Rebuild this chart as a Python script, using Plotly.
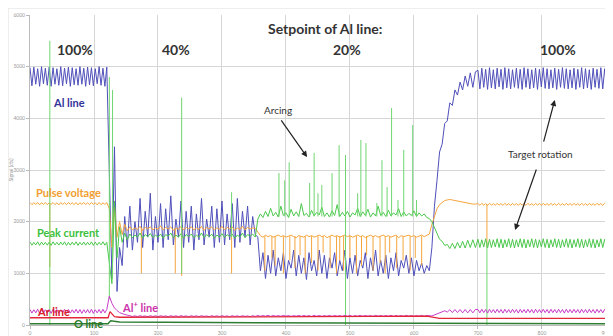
import numpy as np
import plotly.graph_objects as go

# ---------------- data ----------------
seg_starts = [0, 124, 156, 356, 628, 700]   # time positions of the segments
seg_steps = [3, 4, 4, 4, 4, 3]              # sampling step of each segment

al_100a = [4980, 4630, 4990, 4660, 4960, 4620, 5000, 4670, 4970, 4640,
           4990, 4620, 4980, 4660, 4960, 4640, 5000, 4630, 4970, 4670,
           4990, 4620, 4980, 4650, 4960, 4640, 5000, 4660, 4970, 4620,
           4990, 4650, 4980, 4630, 4960, 4670, 5000, 4640, 4970, 4620,
           4990]
al_trans = [3200, 900, 3450, 650, 1500, 1150, 2100, 1500]
al_40 = [2300, 1450, 2000, 1600, 2450, 1500, 2200, 1700, 2550, 1450,
         2100, 1600, 2350, 1500, 2250, 1650, 2500, 1550, 2050, 1700,
         2400, 1500, 2200, 1600, 2300, 1450, 2150, 1650, 2450, 1550,
         2050, 1700, 2300, 1500, 2250, 1600, 2400, 1550, 2150, 1650,
         2350, 1500, 2450, 1600, 2200, 1700, 2300, 1550, 2100, 1750]
al_20 = [1700, 1050, 1400, 900, 1350, 1000, 1450, 950, 1300, 1050,
         1400, 900, 1250, 1100, 1450, 950, 1350, 1000, 1300, 880,
         1400, 1050, 1250, 950, 1450, 1000, 1350, 900, 1300, 1100,
         1400, 950, 1250, 1050, 1450, 900, 1300, 1000, 1350, 950,
         1250, 1100, 1400, 900, 1300, 1050, 1450, 950, 1250, 1000,
         1350, 900, 1300, 1050, 1400, 950, 1250, 1100, 1350, 1000,
         1300, 950, 1250, 1050, 1200, 1000, 1150, 1050]
al_rise = [1500, 2300, 2800, 3350, 3500, 3900, 3950, 4300, 4250, 4550,
           4450, 4700, 4550, 4820, 4620, 4880, 4600, 4900]
al_100b = [4930, 4570, 4970, 4600, 4950, 4560, 4980, 4590, 4940, 4570,
           4970, 4610, 4950, 4560, 4980, 4590, 4960, 4570, 4940, 4600,
           4970, 4580, 4950, 4560, 4980, 4600, 4960, 4570, 4940, 4590,
           4970, 4560, 4950, 4610, 4980, 4580, 4960, 4570, 4940, 4590,
           4970, 4560, 4950, 4600, 4980, 4580, 4960, 4570, 4940, 4590,
           4970, 4560, 4950, 4600, 4980, 4570, 4960, 4590, 4940, 4560,
           4970, 4600, 4950, 4580, 4980, 4570, 4960, 4590, 4940, 4570]

pv_100a = [2370, 2330, 2365, 2335, 2370, 2325, 2365, 2335, 2370, 2330,
           2365, 2335, 2370, 2330, 2365, 2325, 2370, 2335, 2365, 2330,
           2370, 2335, 2365, 2330, 2370, 2325, 2365, 2335, 2370, 2330,
           2365, 2330, 2370, 2335, 2365, 2325, 2370, 2330, 2365, 2335,
           2370]
pv_trans = [2250, 1500, 2300, 1700, 2000, 1750, 1950, 1820]
pv_40 = [1900, 1840, 1880, 1850, 1910, 1830, 1890, 1860, 1900, 1840,
         1880, 1850, 1920, 1840, 1890, 1860, 1900, 1830, 1880, 1850,
         1910, 1840, 1890, 1860, 1900, 1840, 1880, 1850, 1910, 1830,
         1890, 1860, 1900, 1840, 1880, 1850, 1910, 1840, 1890, 1860,
         1900, 1830, 1880, 1850, 1910, 1840, 1890, 1860, 1880, 1870]
pv_20 = [1800, 1730, 1700, 1740, 1710, 1730, 1700, 1720, 1740, 1710,
         1730, 1700, 1720, 1740, 1710, 1690, 1730, 1720, 1700, 1740,
         1710, 1730, 1700, 1720, 1740, 1710, 1730, 1690, 1720, 1740,
         1710, 1730, 1700, 1720, 1740, 1710, 1730, 1700, 1720, 1740,
         1710, 1730, 1690, 1720, 1740, 1710, 1730, 1700, 1720, 1740,
         1710, 1730, 1700, 1720, 1740, 1690, 1730, 1710, 1720, 1740,
         1710, 1730, 1700, 1720, 1740, 1710, 1730, 1760]
pv_rise = [1950, 2100, 2250, 2330, 2380, 2410, 2420, 2430, 2420, 2410,
           2400, 2390, 2370, 2360, 2350, 2350, 2340, 2340]
pv_100b = [2350, 2315, 2355, 2320, 2350, 2315, 2355, 2320, 2350, 2315,
           2355, 2320, 2350, 2315, 2355, 2320, 2350, 2315, 2355, 2320,
           2350, 2315, 2355, 2320, 2350, 2315, 2355, 2320, 2350, 2315,
           2355, 2320, 2350, 2315, 2355, 2320, 2350, 2315, 2355, 2320,
           2350, 2315, 2355, 2320, 2350, 2315, 2355, 2320, 2350, 2315,
           2355, 2320, 2350, 2315, 2355, 2320, 2350, 2315, 2355, 2320,
           2350, 2315, 2355, 2320, 2350, 2315, 2355, 2320, 2350, 2315]

pc_100a = [1605, 1545, 1600, 1550, 1610, 1540, 1605, 1550, 1600, 1545,
           1605, 1540, 1610, 1550, 1600, 1545, 1605, 1550, 1610, 1540,
           1600, 1545, 1605, 1550, 1610, 1540, 1600, 1550, 1605, 1545,
           1600, 1550, 1610, 1540, 1605, 1545, 1600, 1550, 1610, 1545,
           1600]
pc_trans = [1200, 800, 2400, 1300, 1900, 1600, 1780, 1650]
pc_40 = [1760, 1690, 1740, 1700, 1780, 1680, 1750, 1710, 1770, 1690,
         1740, 1700, 1760, 1680, 1750, 1720, 1780, 1690, 1740, 1700,
         1770, 1680, 1750, 1710, 1760, 1690, 1740, 1700, 1780, 1690,
         1750, 1710, 1760, 1680, 1740, 1700, 1770, 1690, 1750, 1710,
         1760, 1680, 1740, 1700, 1780, 1690, 1750, 1720, 1760, 1700]
pc_20 = [2050, 2150, 2080, 2200, 2100, 2260, 2110, 2180, 2090, 2300,
         2120, 2170, 2080, 2240, 2110, 2190, 2100, 2350, 2120, 2160,
         2090, 2220, 2110, 2180, 2130, 2280, 2100, 2170, 2090, 2210,
         2120, 2330, 2100, 2180, 2110, 2200, 2090, 2170, 2130, 2260,
         2100, 2190, 2120, 2240, 2090, 2170, 2110, 2300, 2120, 2180,
         2100, 2220, 2110, 2170, 2130, 2250, 2100, 2190, 2110, 2160,
         2120, 2210, 2100, 2170, 2110, 2150, 2080, 2060]
pc_rise = [2000, 1880, 1760, 1660, 1620, 1540, 1560, 1480, 1580, 1480,
           1600, 1490, 1620, 1490, 1640, 1500, 1650, 1500]
pc_100b = [1660, 1500, 1650, 1510, 1670, 1490, 1660, 1500, 1650, 1510,
           1670, 1500, 1660, 1490, 1650, 1510, 1670, 1500, 1660, 1490,
           1650, 1510, 1670, 1500, 1660, 1490, 1650, 1510, 1670, 1500,
           1660, 1490, 1650, 1510, 1670, 1500, 1660, 1490, 1650, 1510,
           1670, 1500, 1660, 1490, 1650, 1510, 1670, 1500, 1660, 1490,
           1650, 1510, 1670, 1500, 1660, 1490, 1650, 1510, 1670, 1500,
           1660, 1490, 1650, 1510, 1670, 1500, 1660, 1490, 1650, 1510]

alp_100a = [300, 230, 295, 235, 305, 225, 300, 235, 295, 230,
            300, 225, 305, 235, 300, 230, 295, 235, 305, 225,
            300, 230, 295, 235, 305, 230, 300, 225, 295, 235,
            300, 230, 305, 225, 295, 235, 300, 230, 305, 235,
            300]
alp_trans = [560, 420, 330, 280, 240, 220, 200, 190]
alp_40 = [180, 165, 178, 162, 180, 166, 176, 160, 180, 165,
          178, 162, 180, 166, 176, 160, 180, 165, 178, 162,
          180, 166, 176, 160, 180, 165, 178, 162, 180, 166,
          176, 160, 180, 165, 178, 162, 180, 166, 176, 160,
          180, 165, 178, 162, 180, 166, 176, 160, 180, 165]
alp_20 = [185, 168, 182, 170, 186, 166, 184, 170, 182, 168,
          186, 170, 184, 166, 182, 170, 186, 168, 184, 170,
          182, 166, 186, 170, 184, 168, 182, 170, 186, 166,
          184, 170, 182, 168, 186, 170, 184, 166, 182, 170,
          186, 168, 184, 170, 182, 166, 186, 170, 184, 168,
          182, 170, 186, 166, 184, 170, 182, 168, 186, 170,
          184, 166, 182, 170, 186, 168, 184, 172]
alp_rise = [175, 195, 215, 235, 255, 275, 250, 295, 240, 300,
            240, 300, 235, 300, 235, 300, 235, 300]
alp_100b = [300, 235, 305, 240, 300, 230, 305, 240, 300, 235,
            305, 240, 300, 230, 305, 240, 300, 235, 305, 240,
            300, 230, 305, 240, 300, 235, 305, 240, 300, 230,
            305, 240, 300, 235, 305, 240, 300, 230, 305, 240,
            300, 235, 305, 240, 300, 230, 305, 240, 300, 235,
            305, 240, 300, 230, 305, 240, 300, 235, 305, 240,
            300, 230, 305, 240, 300, 235, 305, 240, 300, 230]

ar_time = [0, 122, 125, 132, 140, 356, 620, 640, 911]
ar_line = [140, 140, 260, 160, 150, 165, 170, 130, 130]
o_time = [0, 122, 126, 140, 356, 628, 911]
o_line = [25, 25, 80, 60, 45, 30, 25]

# arcing events (peak current spikes)
arc_time = [31, 124, 129, 237, 315, 389, 398, 405, 437, 444, 450, 456, 472, 483,
            493, 512, 517, 525, 542, 550, 558, 565, 575, 584, 598, 604, 714]
arc_top = [5500, 4800, 4550, 4400, 2570, 2940, 2800, 3150, 2750, 3330, 2550, 2710,
           2940, 3480, 3290, 2550, 3580, 3520, 2360, 3190, 2670, 4200, 2420, 3390,
           3870, 2420, 1600]
arc_bottom = [0, 500, 900, 1000, 1700, 2100, 2100, 2100, 2100, 2100, 2100, 2100,
              2100, 2100, 0, 2100, 2100, 2100, 2100, 2100, 2100, 2100, 2100, 2100,
              2100, 2100, 0]
# pulse voltage drop-outs
drop_time = [31, 174, 227, 237, 315,
             367, 378, 383, 396, 406, 414, 422, 430, 440, 450, 458, 469, 479, 484,
             490, 500, 510, 518, 526, 536, 547, 555, 562, 573, 583, 594, 602, 612,
             714]
drop_top = [2350, 1870, 1870, 1870, 1870,
            1720, 1720, 1720, 1720, 1720, 1720, 1720, 1720, 1720, 1720, 1720, 1720,
            1720, 1720, 1720, 1720, 1720, 1720, 1720, 1720, 1720, 1720, 1720, 1720,
            1720, 1720, 1720, 1720,
            2340]
drop_bottom = [1120, 1000, 1000, 950, 1000,
               1050, 1300, 1150, 1000, 1250, 1100, 1350, 1000, 1200, 1050, 1400, 1100,
               1000, 1250, 1050, 1300, 1000, 1150, 1350, 1050, 1200, 1000, 1400, 1100,
               1250, 1050, 1300, 1150,
               1500]

x_ticks = list(range(0, 1000, 100))
y_ticks = list(range(0, 7000, 1000))


def build(segs):
    xs, ys = [], []
    for start, step, vals in zip(seg_starts, seg_steps, segs):
        xs.extend((start + step * np.arange(len(vals))).tolist())
        ys.extend(vals)
    return xs, ys


def vsegs(xv, lo, hi):
    xs, ys = [], []
    for a, b, c in zip(xv, lo, hi):
        xs += [a, a, None]
        ys += [b, c, None]
    return xs, ys


BLUE = "#3d3db4"
ORANGE = "#f5a53c"
GREEN = "#4cc84c"
RED = "#e3263a"
MAGENTA = "#c83cc8"
DKGREEN = "#2e7d32"

fig = go.Figure()

x, y = build([al_100a, al_trans, al_40, al_20, al_rise, al_100b])
fig.add_trace(go.Scatter(x=x, y=y, mode="lines", line=dict(color=BLUE, width=1), opacity=0.9))
x, y = build([pv_100a, pv_trans, pv_40, pv_20, pv_rise, pv_100b])
fig.add_trace(go.Scatter(x=x, y=y, mode="lines", line=dict(color=ORANGE, width=1)))
x, y = vsegs(drop_time, drop_bottom, drop_top)
fig.add_trace(go.Scatter(x=x, y=y, mode="lines", line=dict(color=ORANGE, width=1)))
x, y = build([pc_100a, pc_trans, pc_40, pc_20, pc_rise, pc_100b])
fig.add_trace(go.Scatter(x=x, y=y, mode="lines", line=dict(color=GREEN, width=1)))
x, y = vsegs(arc_time, arc_bottom, arc_top)
fig.add_trace(go.Scatter(x=x, y=y, mode="lines", line=dict(color="#6fd66f", width=1)))
x, y = build([alp_100a, alp_trans, alp_40, alp_20, alp_rise, alp_100b])
fig.add_trace(go.Scatter(x=x, y=y, mode="lines", line=dict(color=MAGENTA, width=1)))
fig.add_trace(go.Scatter(x=ar_time, y=ar_line, mode="lines", line=dict(color=RED, width=1.3)))
fig.add_trace(go.Scatter(x=o_time, y=o_line, mode="lines", line=dict(color=DKGREEN, width=1.5)))

FONT = "Lato"
ann = []


def txt(x, y, s, color, size, bold=True):
    ann.append(dict(x=x, y=y, xref="x", yref="y", text=("<b>%s</b>" % s) if bold else s,
                    showarrow=False, font=dict(family=FONT, size=size, color=color)))


txt(461, 5730, "Setpoint of Al line:", "#333333", 14)
txt(70, 5340, "100%", "#333333", 14)
txt(228, 5340, "40%", "#333333", 14)
txt(495, 5340, "20%", "#333333", 14)
txt(825, 5340, "100%", "#333333", 14)
txt(61, 4300, "Al line", "#33339a", 11)
txt(60, 2555, "Pulse voltage", "#f0a030", 11)
txt(60, 1800, "Peak current", "#3cbf3c", 11)
txt(36, 270, "Ar line", "#d8202a", 11)
txt(172, 350, "Al<sup>+</sup> line", "#cc33aa", 11)
txt(91, 20, "O line", "#2a7a2a", 11)
txt(387, 4160, "Arcing", "#333333", 10, bold=False)
txt(798, 3310, "Target rotation", "#333333", 10, bold=False)


def arrow(hx, hy, tx, ty):
    ann.append(dict(x=hx, y=hy, ax=tx, ay=ty, xref="x", yref="y", axref="x", ayref="y",
                    text="", showarrow=True, arrowhead=2, arrowsize=1, arrowwidth=1.2,
                    arrowcolor="#222222", font=dict(size=10)))


arrow(433, 3250, 391, 3990)
arrow(820, 4355, 802, 3520)
arrow(758, 1840, 792, 3040)

# the page body has an 8px margin, so the figure starts at (8, 8)
fig.update_layout(
    width=605, height=328,
    margin=dict(l=22, r=0, t=7, b=11),
    paper_bgcolor="white", plot_bgcolor="white",
    showlegend=False,
    font=dict(family=FONT),
    annotations=ann,
    shapes=[
        dict(type="line", xref="paper", yref="paper", x0=-0.0377, x1=1.05, y0=1.0226, y1=1.0226,
             line=dict(color="#dddddd", width=1)),
        dict(type="line", xref="paper", yref="paper", x0=-0.0377, x1=-0.0377, y0=1.0226, y1=-0.1,
             line=dict(color="#dddddd", width=1)),
    ],
    xaxis=dict(range=[0, 911], tickvals=x_ticks, showgrid=True, gridcolor="#d6d6d6",
               zeroline=False, showline=True, linecolor="#bbbbbb", ticks="outside",
               ticklen=3, tickcolor="#bbbbbb", tickfont=dict(size=5, color="#999999")),
    yaxis=dict(range=[0, 6000], tickvals=y_ticks, showgrid=True, gridcolor="#d6d6d6",
               zeroline=False, showline=True, linecolor="#bbbbbb", ticks="outside",
               ticklen=3, tickcolor="#bbbbbb", tickfont=dict(size=5, color="#999999"),
               title=dict(text="Signal (cts)", font=dict(size=5, color="#999999"), standoff=2)),
)

fig.write_html("out.html")
